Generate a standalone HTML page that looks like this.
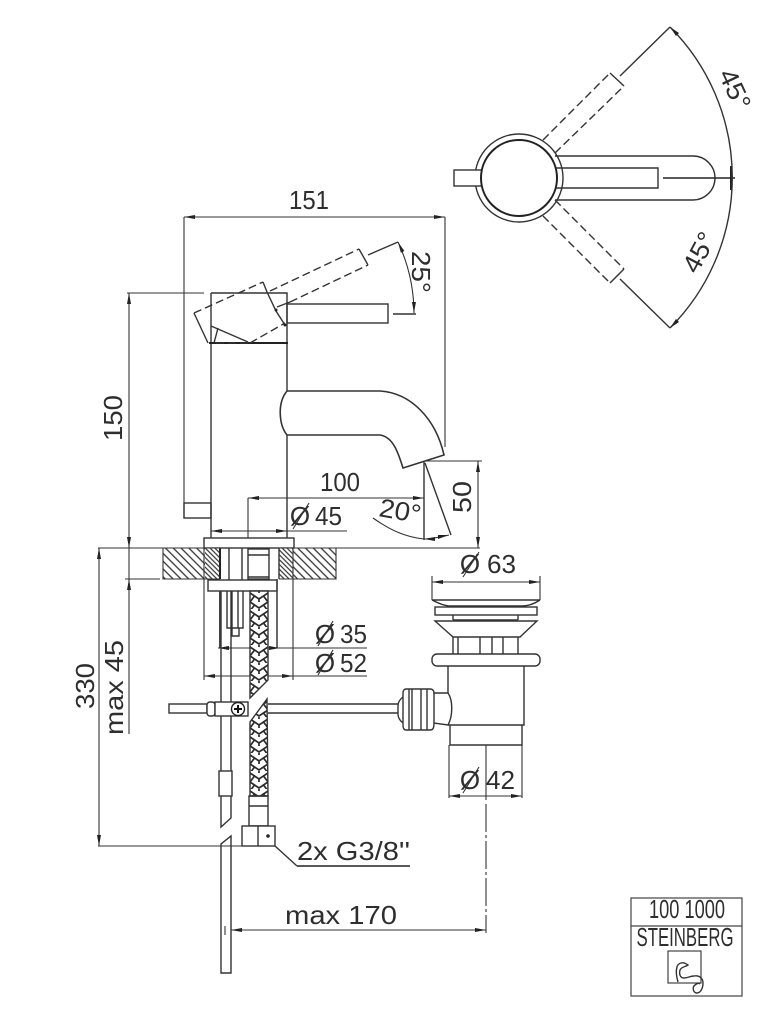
<!DOCTYPE html>
<html>
<head>
<meta charset="utf-8">
<style>
html,body{margin:0;padding:0;background:#fff;}
svg{display:block;filter:blur(.35px);}
text{font-family:"Liberation Sans",sans-serif;fill:#2e2e2e;font-size:26px;}
.l{fill:none;stroke:#333;stroke-width:1.4;}
.t{fill:none;stroke:#333;stroke-width:1.1;}
.h{fill:none;stroke:#222;stroke-width:2;}
.d{fill:none;stroke:#333;stroke-width:1.4;stroke-dasharray:8 4;}
.w{fill:#fff;stroke:#333;stroke-width:1.4;}
</style>
</head>
<body>
<svg xmlns="http://www.w3.org/2000/svg" width="784" height="1024" viewBox="0 0 784 1024">
<defs>
<marker id="a" markerUnits="userSpaceOnUse" markerWidth="12" markerHeight="6" refX="11" refY="3" orient="auto-start-reverse"><path d="M0 1 L11 3 L0 5 Z" fill="#222"/></marker>
<pattern id="hs" patternUnits="userSpaceOnUse" width="5.500" height="5.500" patternTransform="rotate(45)"><line x1="0" y1="1" x2="5.500" y2="1" stroke="#333" stroke-width="1.3"/></pattern>
<pattern id="hd" patternUnits="userSpaceOnUse" width="3.400" height="3.400" patternTransform="rotate(45)"><line x1="0" y1="1" x2="3.400" y2="1" stroke="#333" stroke-width="1.200"/></pattern>
<pattern id="br" patternUnits="userSpaceOnUse" x="250" y="591" width="18" height="18">
<rect width="18" height="18" fill="#fff"/>
<path d="M0 2 L9 8 L18 2 M0 11 L9 17 L18 11 M4.500 5 L0 11 M13.500 5 L18 11 M4.500 14 L0 20 M13.500 14 L18 20 M9 8 L9 11 M9 -1 L9 2" fill="none" stroke="#2a2a2a" stroke-width="1.700"/>
</pattern>
</defs>

<!-- TOP VIEW -->
<g>
<circle cx="519" cy="178" r="44" class="l"/>
<path d="M555 156 H693 A22 22 0 0 1 693 200 H555" class="l"/>
<rect x="454" y="170" width="28" height="16" class="w"/>
<path d="M556 168 H658 V188 H556" class="l"/>
<circle cx="519" cy="178" r="38" fill="#fff" stroke="#222" stroke-width="2"/>
<line x1="663" y1="178" x2="735" y2="178" stroke="#222" stroke-width="1.4"/>
<line x1="731" y1="166" x2="731" y2="190" stroke="#222" stroke-width="2"/>
<path d="M543 140 L610 73" class="d"/><path d="M555 153 L624 86" class="d"/>
<path d="M610 73 L624 86" class="l"/>
<path d="M555 200 L624 269" class="d"/><path d="M543 216 L610 283" class="d"/>
<path d="M624 269 L610 283" class="l"/>
<path d="M620 76 L670 27" class="l"/>
<path d="M620 279 L670 328" class="l"/>
<path d="M670 27 A213 213 0 0 1 670 328" class="l"/>
<path d="M670 27 L679 33 L676 36 Z" fill="#222"/>
<path d="M670 328 L679 322 L676 319 Z" fill="#222"/>
<text transform="translate(718,74) rotate(65)" font-size="28" textLength="42" lengthAdjust="spacingAndGlyphs">45°</text>
<text transform="translate(697,275) rotate(-62)" font-size="28" textLength="42" lengthAdjust="spacingAndGlyphs">45°</text>
</g>

<!-- FRONT VIEW: dimensions -->
<path d="M184 518 V217 M445 217 V447" class="t"/>
<line x1="184" y1="217" x2="445" y2="217" class="t" marker-start="url(#a)" marker-end="url(#a)"/>
<text x="309" y="209" text-anchor="middle" textLength="40" lengthAdjust="spacingAndGlyphs">151</text>
<rect x="184" y="503" width="27" height="15" class="l"/>

<path d="M127 293 H204" class="t"/>
<line x1="129" y1="293" x2="129" y2="548" class="t" marker-start="url(#a)" marker-end="url(#a)"/>
<text transform="translate(122,441) rotate(-90)" textLength="46" lengthAdjust="spacingAndGlyphs">150</text>

<!-- body -->
<path d="M211 293 H287 V391 M287 435 V538 M211 293 V538" class="l"/>
<path d="M209 343 H288" class="h"/>
<path d="M211 326 L248 342 M218 328 L214 343" class="l"/>
<!-- dashed handle -->
<path d="M194 313 L263 282" class="d"/>
<path d="M194 313 L208 343" class="l"/>
<path d="M263 282 L267 292 L276 311 L285 325" class="l"/>
<path d="M216 343 H250" class="d"/>
<path d="M250 343 L285 323" class="d"/>
<path d="M270 291 L359 249" class="d"/>
<path d="M277 307 L290 302" class="l"/>
<path d="M290 302 L368 265" class="d"/>
<circle cx="276" cy="310" r="1.500" fill="#222"/>
<circle cx="285" cy="325" r="1.500" fill="#222"/>
<path d="M359 249 L368 265" class="l"/>
<path d="M368 255 L398 242" class="l"/>
<!-- lever -->
<rect x="287" y="304" width="101" height="19" class="l"/>
<path d="M393 314 H416" class="l"/>
<path d="M398 242 A170 170 0 0 1 414 313" class="t" marker-start="url(#a)" marker-end="url(#a)"/>
<text transform="translate(412,251) rotate(90)" font-size="28" textLength="42" lengthAdjust="spacingAndGlyphs">25°</text>
<!-- spout -->
<path d="M287 391 H380 C412 393 436 420 444 455 L403 468 C398 452 393 437 380 435 H287 C279 425 277 403 287 391 Z" fill="#fff" stroke="#333" stroke-width="1.600"/>

<!-- 50 / 20 -->
<path d="M425 461 H482" class="t"/>
<line x1="478" y1="461" x2="478" y2="548" class="t" marker-start="url(#a)" marker-end="url(#a)"/>
<text transform="translate(471,513) rotate(-90)" textLength="32" lengthAdjust="spacingAndGlyphs">50</text>
<path d="M424 461 V540" class="l"/>
<path d="M425 463 L451 535" class="l"/>
<path d="M373 518 C390 530 405 537 424 539 C432 539 440 537 449 535" class="t"/>
<path d="M449 535 L438 535 L438 539 Z" fill="#222"/>
<path d="M424 539 L435 537 L435 541 Z" fill="#222"/>
<text transform="translate(378,516) rotate(10)" font-size="27" textLength="42" lengthAdjust="spacingAndGlyphs">20°</text>

<!-- 100 -->
<path d="M248 498 V547" class="t"/>
<line x1="248" y1="498" x2="424" y2="498" class="t" marker-start="url(#a)" marker-end="url(#a)"/>
<text x="340" y="491" text-anchor="middle" textLength="40" lengthAdjust="spacingAndGlyphs">100</text>
<!-- 45 -->
<line x1="211" y1="531" x2="287" y2="531" class="t" marker-start="url(#a)" marker-end="url(#a)"/>
<line x1="287" y1="531" x2="347" y2="531" class="t"/>
<text x="300" y="525" text-anchor="middle">Ø</text><line x1="293" y1="529" x2="309" y2="503" class="t"/>
<text x="315" y="525" textLength="27" lengthAdjust="spacingAndGlyphs">45</text>

<!-- deck -->
<rect x="204" y="538" width="90" height="10" class="w"/>
<rect x="163" y="548" width="57" height="31" fill="url(#hs)"/>
<rect x="279" y="548" width="57" height="31" fill="url(#hs)"/>
<rect x="205" y="548" width="15" height="31" fill="#fff"/>
<rect x="279" y="548" width="14" height="31" fill="#fff"/>
<rect x="205" y="548" width="15" height="31" fill="url(#hd)"/>
<rect x="279" y="548" width="14" height="31" fill="url(#hd)"/>
<path d="M163 548 H220 M279 548 H336 M163 548 V579 H220 M336 548 V579 H279" class="t"/>
<path d="M220 548 V579" stroke="#222" stroke-width="2"/>
<path d="M279 548 V579" stroke="#333" stroke-width="1.4"/>
<path d="M229 548 V580 M242 548 V580" class="l"/>
<rect x="248" y="549" width="21" height="30" class="l"/>
<path d="M248 555 H269 M248 577 H269" class="l"/>
<!-- clamp -->
<rect x="208" y="580" width="69" height="11" class="w"/>
<path d="M220 591 V648" stroke="#444" stroke-width="2"/>
<path d="M277 579 V648" stroke="#444" stroke-width="1.6"/>
<path d="M227 591 V628 H243 V591 M232 591 V628 M238 591 V628" class="l"/>
<path d="M232 628 V636 H239 V628" class="l"/>

<!-- long line extension + Ø35, Ø52 -->
<path d="M204 548 V680 M293 548 V680" class="t"/>
<line x1="218" y1="648" x2="280" y2="648" class="t" marker-start="url(#a)" marker-end="url(#a)"/>
<path d="M280 648 H367" class="t"/>
<line x1="204" y1="676" x2="293" y2="676" class="t" marker-start="url(#a)" marker-end="url(#a)"/>
<path d="M293 676 H367" class="t"/>
<text x="325" y="643" text-anchor="middle">Ø</text><line x1="318" y1="646" x2="333" y2="621" class="t"/>
<text x="340" y="643" textLength="27" lengthAdjust="spacingAndGlyphs">35</text>
<text x="325" y="672" text-anchor="middle">Ø</text><line x1="318" y1="675" x2="333" y2="650" class="t"/>
<text x="340" y="672" textLength="27" lengthAdjust="spacingAndGlyphs">52</text>

<!-- thin tube -->
<path d="M221 591 V827 L231 818 V591" class="l"/>
<path d="M221 973 V844 L231 836 V973 Z" class="l"/>
<rect x="219" y="771" width="13" height="25" class="w"/>

<!-- braided hose -->
<polygon points="250,591 268,591 268,680 250,698" fill="url(#br)" stroke="#333" stroke-width="1.400"/>
<polygon points="267,699 268,796 250,796 250,722" fill="url(#br)" stroke="#333" stroke-width="1.400"/>
<path d="M249 796 H268 V826 H249 Z M249 806 H268" class="l"/>
<rect x="242" y="826" width="33" height="20" class="w"/>
<path d="M258 826 V846" class="l"/>
<circle cx="268" cy="836" r="1.800" fill="#222"/>
<path d="M275 846 L297 866" class="l"/>
<path d="M297 866 H410" stroke="#222" stroke-width="1.600"/>
<text x="297" y="860" textLength="113" lengthAdjust="spacingAndGlyphs">2x G3/8''</text>

<!-- horizontal tube & fitting -->
<rect x="169" y="704" width="38" height="9" class="w"/>
<rect x="207" y="702" width="8" height="14" rx="3" class="w"/>
<rect x="215" y="702" width="33" height="14" class="w"/>
<circle cx="238" cy="709" r="6.500" fill="#fff" stroke="#222" stroke-width="1.400"/>
<path d="M234 709 H242 M238 705 V713" stroke="#111" stroke-width="2"/>
<path d="M268 704 H398 M268 713 H398" class="l"/>

<!-- waste -->
<path d="M403 697 C399 700 398 703 398 706 V714 C398 717 399 720 403 723" class="l"/>
<path d="M406 689 H430 C433 689 434 691 434 693 H448 C453 700 453 716 448 725 L434 723 C434 728 433 730 430 730 H406 C404 730 403 728 403 725 V693 C403 691 404 689 406 689 Z" class="w"/>
<path d="M409 689 V730 M412 689 V730 M421 689 V730 M427 689 V730 M434 693 V723" class="l"/>

<line x1="432" y1="582" x2="540" y2="582" class="t" marker-start="url(#a)" marker-end="url(#a)"/>
<path d="M432 576 V600 M540 576 V600" class="t"/>
<text x="470" y="573" text-anchor="middle">Ø</text><line x1="463" y1="577" x2="479" y2="552" class="t"/>
<text x="487" y="573" textLength="29" lengthAdjust="spacingAndGlyphs">63</text>
<path d="M432 600 H540 M432 600 C440 604 445 606 450 606 H522 C528 606 534 604 540 600" class="l"/>
<rect x="435" y="607" width="102" height="8" class="l"/>
<path d="M453 615 V620 M518 615 V620" class="l"/>
<path d="M435 621 H537 L520 637 H453 Z M453 620 H518" class="l"/>
<path d="M453 637 V654 M458 637 V654 M480 637 V654 M492 637 V654 M503 637 V654 M518 637 V654" class="l"/>
<rect x="432" y="654" width="108" height="12" rx="5" class="l"/>
<path d="M448 666 V693 M448 725 H524 V666" class="l"/>
<path d="M450 725 V745 H522 V725" class="l"/>
<path d="M449 745 V798 M522 745 V798" class="t"/>
<line x1="449" y1="796" x2="522" y2="796" class="t" marker-start="url(#a)" marker-end="url(#a)"/>
<path d="M486 745 V800" class="t"/>
<path d="M486 804 V933" class="t" stroke-dasharray="28 3 3 3"/>
<text x="470" y="789" text-anchor="middle">Ø</text><line x1="463" y1="793" x2="479" y2="767" class="t"/>
<text x="486" y="789" textLength="29" lengthAdjust="spacingAndGlyphs">42</text>

<!-- left long dims -->
<path d="M98 548 H163 M336 548 H480 M98 846 H242 M125 579 H160" class="t"/>
<line x1="99" y1="548" x2="99" y2="846" class="t" marker-start="url(#a)" marker-end="url(#a)"/>
<line x1="129" y1="579" x2="129" y2="734" class="t" marker-start="url(#a)"/>
<path d="M129 579 V548" class="t"/>
<text transform="translate(94,709) rotate(-90)" textLength="46" lengthAdjust="spacingAndGlyphs">330</text>
<text transform="translate(123,735) rotate(-90)" textLength="95" lengthAdjust="spacingAndGlyphs">max 45</text>

<!-- max 170 -->
<line x1="231" y1="930" x2="486" y2="930" class="t" marker-start="url(#a)" marker-end="url(#a)"/>
<path d="M225 926 V935" class="t"/>
<text x="285" y="924" textLength="112" lengthAdjust="spacingAndGlyphs">max 170</text>

<!-- stamp -->
<rect x="631" y="898" width="111" height="98" fill="#fff" stroke="#444" stroke-width="1.200"/>
<line x1="631" y1="926" x2="742" y2="926" stroke="#444" stroke-width="1.200"/>
<text x="687" y="918" text-anchor="middle" font-size="17" textLength="76" lengthAdjust="spacingAndGlyphs">100 1000</text>
<text x="685" y="946" text-anchor="middle" font-size="17" textLength="97" lengthAdjust="spacingAndGlyphs">STEINBERG</text>
<rect x="668" y="951" width="33" height="32" fill="none" stroke="#444" stroke-width="1.200"/>
<path d="M678 982 C676 975 676 970 677 967 C678 963 683 961 688 965 C685 967 681 967 680 970 C679 974 680 978 684 978 C688 978 690 976 694 976 C699 975 703 978 703 983 C703 989 700 993 697 993 C693 993 692 987 695 985 C697 983 699 983 700 984" fill="none" stroke="#333" stroke-width="1.400"/>
</svg>
</body>
</html>
